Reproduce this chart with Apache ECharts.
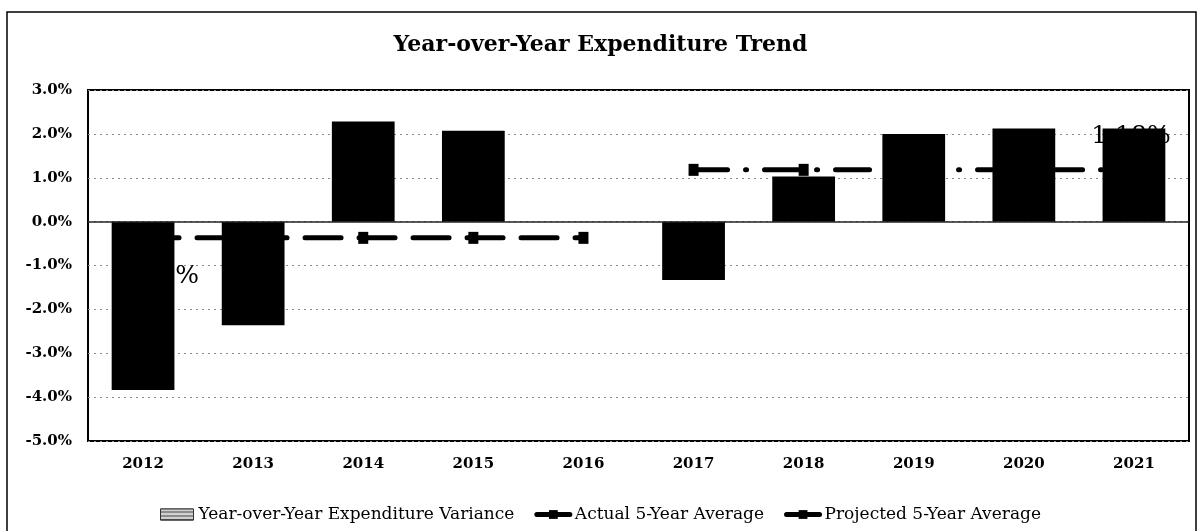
<!DOCTYPE html>
<html>
<head>
<meta charset="utf-8">
<title>Year-over-Year Expenditure Trend</title>
<script src="https://cdn.jsdelivr.net/npm/echarts@6/dist/echarts.min.js"></script>
<style>
  html, body { margin: 0; padding: 0; background: #fff; }
  #chart { width: 1201px; height: 531px; }
</style>
</head>
<body>
<div id="chart"></div>
<script>
// Fiscal years on the category axis
const years = ['2012', '2013', '2014', '2015', '2016', '2017', '2018', '2019', '2020', '2021'];

// Year-over-year change in expenditure, percent
const variance = [-3.84, -2.36, 2.28, 2.07, 0.0, -1.33, 1.03, 2.0, 2.12, 2.12];

// Five-year averages: actual (2012-2016) and projected (2017-2021), percent
const actualAvg = [-0.37, -0.37, -0.37, -0.37, -0.37, null, null, null, null, null];
const projectedAvg = [null, null, null, null, null, 1.18, 1.18, 1.18, 1.18, 1.18];

// Value axis range and step, percent
const yMin = -5;
const yMax = 3;
const yStep = 1;

const serif = 'DejaVu Serif';

// Show the average value once on the line, next to a chosen point
function withLabel(arr, idx, labelOpts) {
  return arr.map((v, i) => (i === idx ? { value: v, label: Object.assign({ show: true }, labelOpts) } : v));
}

const chart = echarts.init(document.getElementById('chart'), null, { renderer: 'canvas' });

const avgLabelText = {
  formatter: p => p.value.toFixed(2) + '%',
  color: '#000',
  fontFamily: serif,
  fontSize: 25
};

const actualDash = [36, 18];
const projectedDash = [34, 18, 1, 18];

chart.setOption({
  animation: false,
  backgroundColor: '#fff',
  title: {
    text: 'Year-over-Year Expenditure Trend',
    left: 'center',
    top: 29,
    textStyle: { fontFamily: serif, fontWeight: 'bold', fontSize: 22, color: '#000' }
  },
  graphic: [{
    type: 'rect',
    shape: { x: 7, y: 12, width: 1189, height: 530 },
    style: { fill: 'none', stroke: '#000', lineWidth: 1.5 },
    silent: true,
    z: -1
  }],
  legend: {
    top: 501,
    left: 'center',
    itemGap: 20,
    itemWidth: 33,
    itemHeight: 11,
    textStyle: { fontFamily: serif, fontSize: 17, color: '#000' },
    data: [
      {
        name: 'Year-over-Year Expenditure Variance',
        icon: 'rect',
        itemStyle: {
          color: '#8c8c8c',
          borderColor: '#333',
          borderWidth: 1,
          decal: { symbol: 'rect', dashArrayX: [1, 0], dashArrayY: [2, 2], rotation: 0, color: '#d0d0d0' }
        }
      },
      { name: 'Actual 5-Year Average', lineStyle: { width: 5, type: 'solid' } },
      { name: 'Projected 5-Year Average', lineStyle: { width: 5, type: 'solid' } }
    ]
  },
  grid: {
    left: 88,
    right: 12,
    top: 90,
    bottom: 90,
    show: true,
    borderColor: '#000',
    borderWidth: 2,
    backgroundColor: 'transparent'
  },
  xAxis: {
    type: 'category',
    data: years,
    axisTick: { show: false },
    axisLine: { show: false },
    axisLabel: { margin: 16, fontFamily: serif, fontWeight: 'bold', fontSize: 15, color: '#000' }
  },
  yAxis: {
    type: 'value',
    min: yMin,
    max: yMax,
    interval: yStep,
    axisLine: { show: false },
    axisTick: { show: false },
    axisLabel: {
      margin: 16,
      formatter: v => v.toFixed(1) + '%',
      fontFamily: serif,
      fontWeight: 'bold',
      fontSize: 15,
      color: '#000'
    },
    splitLine: { lineStyle: { color: '#8a8a8a', type: [2, 4], width: 1 } }
  },
  series: [
    {
      name: 'Year-over-Year Expenditure Variance',
      type: 'bar',
      data: variance,
      barWidth: '57%',
      itemStyle: { color: '#000' },
      markLine: {
        silent: true,
        symbol: 'none',
        label: { show: false },
        lineStyle: { color: '#222', type: 'solid', width: 1.5 },
        data: [{ yAxis: 0 }]
      },
      z: 2
    },
    {
      name: 'Actual 5-Year Average',
      type: 'line',
      data: withLabel(actualAvg, 0, Object.assign({ position: 'bottom', distance: 20, offset: [12, 0] }, avgLabelText)),
      symbol: 'rect',
      symbolSize: [10, 12],
      showSymbol: true,
      itemStyle: { color: '#000' },
      lineStyle: { color: '#000', width: 5, type: actualDash, cap: 'round' },
      z: 3
    },
    {
      name: 'Projected 5-Year Average',
      type: 'line',
      data: withLabel(projectedAvg, 9, Object.assign({ position: 'top', distance: 15, offset: [-3, 0] }, avgLabelText)),
      symbol: 'rect',
      symbolSize: [10, 12],
      showSymbol: true,
      itemStyle: { color: '#000' },
      lineStyle: { color: '#000', width: 5, type: projectedDash, cap: 'round' },
      z: 3
    }
  ]
});
</script>
</body>
</html>
